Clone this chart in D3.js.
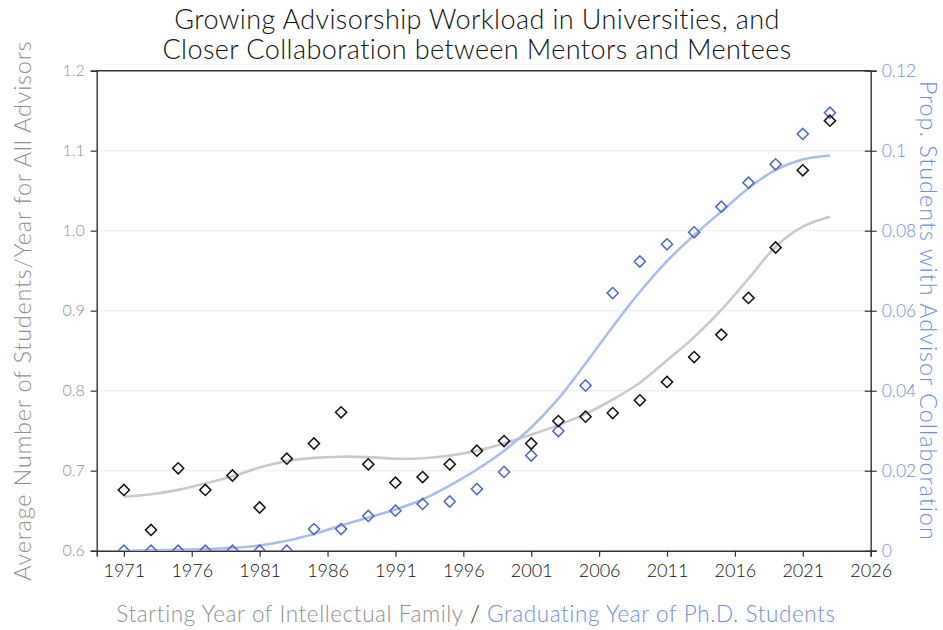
<!DOCTYPE html>
<html>
<head>
<meta charset="utf-8">
<script src="https://cdn.jsdelivr.net/npm/d3@7"></script>
<style>
  body { margin: 0; background: #fff; }
  svg { display: block; font-family: Lato, "Open Sans", sans-serif; }
</style>
</head>
<body>
<div id="chart"></div>
<script>
// Odd years, one point each
const years = [1971, 1973, 1975, 1977, 1979, 1981, 1983, 1985, 1987, 1989,
    1991, 1993, 1995, 1997, 1999, 2001, 2003, 2005, 2007, 2009,
    2011, 2013, 2015, 2017, 2019, 2021, 2023];

// left axis: average number of students / year for all advisors
const advisorLoad = [0.676, 0.626, 0.703, 0.676, 0.694, 0.654, 0.715, 0.734, 0.773, 0.708,
    0.685, 0.692, 0.708, 0.725, 0.737, 0.734, 0.762, 0.7675, 0.772, 0.788,
    0.811, 0.842, 0.870, 0.916, 0.979, 1.0755, 1.1375];

// right axis: proportion of students with advisor collaboration
const collabShare = [0, 0, 0, 0, 0, 0, 0, 0.0054, 0.0054, 0.0087,
    0.0100, 0.0117, 0.0123, 0.0154, 0.0197, 0.0238, 0.0299, 0.0413, 0.0644, 0.0723,
    0.0766, 0.0796, 0.0860, 0.0920, 0.0966, 0.1042, 0.1095];

// fitted trend lines
const advisorFit = [0.6675, 0.6705, 0.676, 0.684, 0.693, 0.704, 0.712, 0.716, 0.7175, 0.717,
    0.715, 0.7155, 0.719, 0.725, 0.734, 0.745, 0.757, 0.771, 0.789, 0.810,
    0.838, 0.867, 0.901, 0.940, 0.980, 1.005, 1.0175];

const collabFit = [0, 0.0001, 0.0002, 0.0004, 0.0007, 0.0013, 0.0025, 0.0042, 0.0063, 0.0083,
    0.0103, 0.0128, 0.0163, 0.0203, 0.0250, 0.0308, 0.0380, 0.0468, 0.0560, 0.0647,
    0.0724, 0.0789, 0.0848, 0.0906, 0.0952, 0.0978, 0.0988];

const xTicks = [1971, 1976, 1981, 1986, 1991, 1996, 2001, 2006, 2011, 2016, 2021, 2026];
const leftTicks = [0.6, 0.7, 0.8, 0.9, 1.0, 1.1, 1.2];
const rightTicks = [0, 0.02, 0.04, 0.06, 0.08, 0.1, 0.12];
const rightTickLabels = ["0", "0.02", "0.04", "0.06", "0.08", "0.1", "0.12"];

const titleLines = ["Growing Advisorship Workload in Universities, and",
    "Closer Collaboration between Mentors and Mentees"];

const width = 943, height = 630;
const marginTop = 70.7, marginBottom = 79.3, marginLeft = 96.7, marginRight = 72.3;

const grey = "#8f8f8f", blue = "#6f8fd6", markBlue = "#4e68bd";

const x = d3.scaleLinear([1969, 2026], [marginLeft, width - marginRight]);
const yLeft = d3.scaleLinear([0.6, 1.2], [height - marginBottom, marginTop]);
const yRight = d3.scaleLinear([0, 0.12], [height - marginBottom, marginTop]);

const svg = d3.select("#chart").append("svg")
    .attr("width", width)
    .attr("height", height)
    .attr("viewBox", [0, 0, width, height]);

svg.append("defs").append("clipPath")
    .attr("id", "plot-clip")
  .append("rect")
    .attr("x", marginLeft)
    .attr("y", marginTop)
    .attr("width", width - marginLeft - marginRight)
    .attr("height", height - marginTop - marginBottom);

// dotted grid
svg.append("g")
    .attr("stroke", "#dcdcdc")
    .attr("stroke-dasharray", "2,2")
  .selectAll("line")
  .data(leftTicks.slice(1, -1))
  .join("line")
    .attr("x1", marginLeft)
    .attr("x2", width - marginRight)
    .attr("y1", d => yLeft(d))
    .attr("y2", d => yLeft(d));

// axes
svg.append("g")
    .attr("transform", `translate(0,${height - marginBottom})`)
    .call(d3.axisBottom(x).tickValues(xTicks).tickFormat(d3.format("d")).tickSize(6).tickPadding(8))
    .call(g => g.select(".domain").attr("stroke", "#333").attr("stroke-width", 1.4))
    .call(g => g.selectAll(".tick line").attr("stroke", "#333").attr("stroke-width", 1.2))
    .call(g => g.selectAll(".tick text")
        .attr("fill", "#111")
        .attr("font-size", 18)
        .attr("font-weight", 300)
        .attr("font-family", "Lato, sans-serif"));

svg.append("g")
    .attr("transform", `translate(${marginLeft},0)`)
    .call(d3.axisLeft(yLeft).tickValues(leftTicks).tickFormat(d3.format(".1f")).tickSize(6).tickPadding(6))
    .call(g => g.select(".domain").attr("stroke", "#333").attr("stroke-width", 1.4))
    .call(g => g.selectAll(".tick line").attr("stroke", "#333").attr("stroke-width", 1.2))
    .call(g => g.selectAll(".tick text")
        .attr("fill", grey)
        .attr("font-size", 16)
        .attr("font-weight", 300)
        .attr("font-family", "Lato, sans-serif"));

svg.append("g")
    .attr("transform", `translate(${width - marginRight},0)`)
    .call(d3.axisRight(yRight).tickValues(rightTicks).tickFormat((d, i) => rightTickLabels[i]).tickSize(6).tickPadding(5))
    .call(g => g.select(".domain").attr("stroke", "#333").attr("stroke-width", 1.4))
    .call(g => g.selectAll(".tick line").attr("x1", -6).attr("stroke", "#333").attr("stroke-width", 1.2))
    .call(g => g.selectAll(".tick text")
        .attr("fill", blue)
        .attr("font-size", 17.5)
        .attr("font-weight", 300)
        .attr("font-family", "Lato, sans-serif"));

// top border
svg.append("line")
    .attr("x1", marginLeft)
    .attr("x2", width - marginRight)
    .attr("y1", marginTop)
    .attr("y2", marginTop)
    .attr("stroke", "#333")
    .attr("stroke-width", 1.4);

const plot = svg.append("g").attr("clip-path", "url(#plot-clip)");

// trend lines
const fitLine = y => d3.line()
    .x(d => x(d[0]))
    .y(d => y(d[1]))
    .curve(d3.curveCatmullRom.alpha(0.5));

plot.append("path")
    .datum(years.map((yr, i) => [yr, advisorFit[i]]))
    .attr("fill", "none")
    .attr("stroke", "#c9c9c9")
    .attr("stroke-width", 2.6)
    .attr("d", fitLine(yLeft));

plot.append("path")
    .datum(years.map((yr, i) => [yr, collabFit[i]]))
    .attr("fill", "none")
    .attr("stroke", "#a9bde8")
    .attr("stroke-width", 2.6)
    .attr("d", fitLine(yRight));

// diamonds
const diamond = d3.symbol(d3.symbolSquare, 62);

plot.append("g")
    .attr("fill", "none")
    .attr("stroke", markBlue)
    .attr("stroke-width", 1.5)
  .selectAll("path")
  .data(years.map((yr, i) => [yr, collabShare[i]]))
  .join("path")
    .attr("transform", d => `translate(${x(d[0])},${yRight(d[1])}) rotate(45)`)
    .attr("d", diamond);

plot.append("g")
    .attr("fill", "none")
    .attr("stroke", "#111")
    .attr("stroke-width", 1.5)
  .selectAll("path")
  .data(years.map((yr, i) => [yr, advisorLoad[i]]))
  .join("path")
    .attr("transform", d => `translate(${x(d[0])},${yLeft(d[1])}) rotate(45)`)
    .attr("d", diamond);

// title
svg.append("g")
    .attr("text-anchor", "middle")
    .attr("fill", "#111")
    .attr("font-size", 27)
    .attr("font-weight", 300)
    .attr("letter-spacing", 0.4)
  .selectAll("text")
  .data(titleLines)
  .join("text")
    .attr("x", 477)
    .attr("y", (d, i) => 29 + i * 30)
    .text(d => d);

// axis titles
svg.append("text")
    .attr("transform", `translate(31,${(marginTop + height - marginBottom) / 2}) rotate(-90)`)
    .attr("text-anchor", "middle")
    .attr("fill", grey)
    .attr("font-size", 23.5)
    .attr("font-weight", 300)
    .attr("letter-spacing", 0.75)
    .text("Average Number of Students/Year for All Advisors");

svg.append("text")
    .attr("transform", `translate(920,${(marginTop + height - marginBottom) / 2}) rotate(90)`)
    .attr("text-anchor", "middle")
    .attr("fill", blue)
    .attr("font-size", 23.5)
    .attr("font-weight", 300)
    .attr("letter-spacing", 0.95)
    .text("Prop. Students with Advisor Collaboration");

const xLabel = svg.append("text")
    .attr("x", 476)
    .attr("y", 622)
    .attr("text-anchor", "middle")
    .attr("font-size", 22.5)
    .attr("font-weight", 300)
    .attr("letter-spacing", 0.6);
xLabel.append("tspan").attr("fill", grey).text("Starting Year of Intellectual Family");
xLabel.append("tspan").attr("fill", "#111").text(" / ");
xLabel.append("tspan").attr("fill", blue).text("Graduating Year of Ph.D. Students");
</script>
</body>
</html>
